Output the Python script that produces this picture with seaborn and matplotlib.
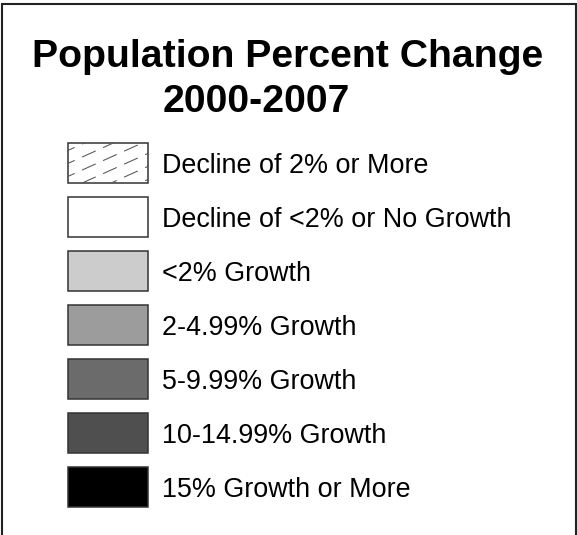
import matplotlib
matplotlib.use("Agg")
import matplotlib.pyplot as plt
import seaborn as sns
import pandas as pd
import numpy as np

title_lines = ["Population Percent Change", "2000-2007"]
categories = ["Decline of 2% or More", "Decline of <2% or No Growth", "<2% Growth",
              "2-4.99% Growth", "5-9.99% Growth", "10-14.99% Growth", "15% Growth or More"]
swatch_colors = ["#ffffff", "#ffffff", "#cccccc", "#9c9c9c", "#6b6b6b", "#4f4f4f", "#000000"]
swatch_length = [1, 1, 1, 1, 1, 1, 1]
hatched = [True, False, False, False, False, False, False]

sns.set_theme(style="white")
plt.rcParams['font.family'] = ['Liberation Sans', 'DejaVu Sans']
plt.rcParams['lines.scale_dashes'] = False

W, H = 577, 535
fig = plt.figure(figsize=(W / 100, H / 100), dpi=100)
fig.patch.set_facecolor("white")
ax = fig.add_axes([0, 0, 1, 1])
df = pd.DataFrame({"category": categories, "length": swatch_length})
sns.barplot(data=df, y="category", x="length", hue="category", palette=swatch_colors,
            order=categories, hue_order=categories, width=40 / 54, edgecolor="#333333",
            linewidth=1.1, legend=False, ax=ax, saturation=1)

# layout: 1 x-unit = 80 px, swatches start at 68 px; row pitch 54 px, first row centre at 163 px
ax.set_xlim(-68 / 80, (W - 68) / 80)
ax.set_ylim((H - 163) / 54, -163 / 54)
ax.set_axis_off()

for k, cat in enumerate(categories):
    ax.text(94 / 80, k + 10 / 54, cat, va="baseline", ha="left", fontsize=19.4,
            color="black")

# overlay in pixel coordinates
ax2 = fig.add_axes([0, 0, 1, 1])
ax2.set_xlim(0, W)
ax2.set_ylim(H, 0)
ax2.set_axis_off()
ax2.patch.set_alpha(0)

bars = ax.patches
for k, h in enumerate(hatched):
    if h:
        patch = bars[k]
        xs = np.array([40, 180])
        for i, c in enumerate(np.arange(150, 280, 13)):
            ln, = ax2.plot(xs, c - 0.45 * (xs - 40), color="#555555", lw=0.75,
                           dash_capstyle="butt")
            ln.set_dashes((10.8, 5.8))
            ln.set_clip_path(patch)

# border (no bottom edge)
ax2.plot([1.5, 1.5, 575.5, 575.5], [H, 3.5, 3.5, H], color="#222222", lw=1.5,
         solid_joinstyle="miter")

ax2.text(287.5, 67, title_lines[0], ha="center", va="baseline", fontsize=28.3,
         fontweight="bold", color="black")
ax2.text(256, 112, title_lines[1], ha="center", va="baseline", fontsize=28.3,
         fontweight="bold", color="black")

fig.savefig("out.png", dpi=100, facecolor="white")
